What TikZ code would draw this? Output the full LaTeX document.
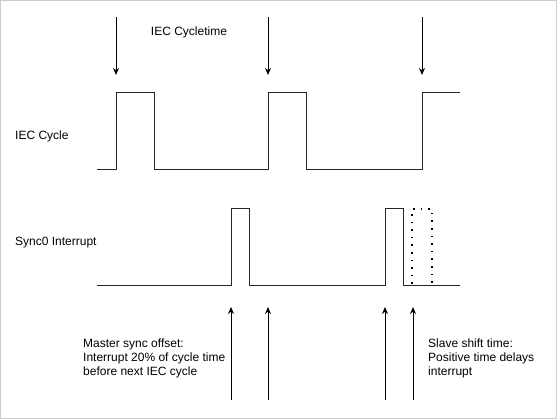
\documentclass[tikz,border=0pt]{standalone}
\usepackage{fontspec}
\setmainfont{Liberation Sans}
\usetikzlibrary{arrows.meta, positioning}

\begin{document}
\begin{tikzpicture}[
    x=1pt, y=-1pt,
    signal/.style={line width=1pt, draw=black!85},
    marker/.style={line width=1pt, -{Stealth[length=7pt, width=6pt]}},
    shifted/.style={line width=1.6pt, dash pattern=on 1.6pt off 6pt},
    caption/.style={font=\fontsize{12}{14}\selectfont, inner sep=0pt, align=left}
]

   % frame
   \useasboundingbox (0,0) rectangle (557,419);
   \draw[black!20] (0.5,0.5) rectangle (556.5,418.5);

   % Labels
   \node[caption]                   (cycletime) at (189,32) {IEC Cycletime};
   \node[caption, anchor=west]      (ieclabel)  at (15,136) {IEC Cycle};
   \node[caption, anchor=west]      (synclabel) at (15,243) {Sync0 Interrupt};
   \node[caption, anchor=north west] (master)   at (83,339)
        {Master sync offset:\\Interrupt 20\% of cycle time\\before next IEC cycle};
   \node[caption, anchor=north west] (slave)    at (428,339)
        {Slave shift time:\\Positive time delays\\interrupt};

   % IEC cycle signal
   \draw[signal] (97,170) -- (116,170) -- (116,93) -- (154,93) -- (154,170)
                 -- (268,170) -- (268,93) -- (306,93) -- (306,170)
                 -- (422,170) -- (422,93) -- (460,93);

   % Sync0 interrupt signal
   \draw[signal] (97,286) -- (231,286) -- (231,209) -- (249,209) -- (249,286)
                 -- (385,286) -- (385,209) -- (403,209) -- (403,286) -- (460,286);

   % shifted interrupt (slave shift time)
   \draw[shifted] (412,284) -- (412,209) -- (432,209) -- (432,284);

   % cycle start markers
   \foreach \x [count=\i] in {116,268,422} {
      \coordinate (start\i) at (\x,17);
      \coordinate (cycle\i) at (\x,75);
      \draw[marker] (start\i) -- (cycle\i);
   }

   % interrupt markers
   \foreach \x [count=\i] in {231,268,385,413} {
      \coordinate (base\i) at (\x,400);
      \coordinate (irq\i)  at (\x,307);
      \draw[marker] (base\i) -- (irq\i);
   }

\end{tikzpicture}
\end{document}
